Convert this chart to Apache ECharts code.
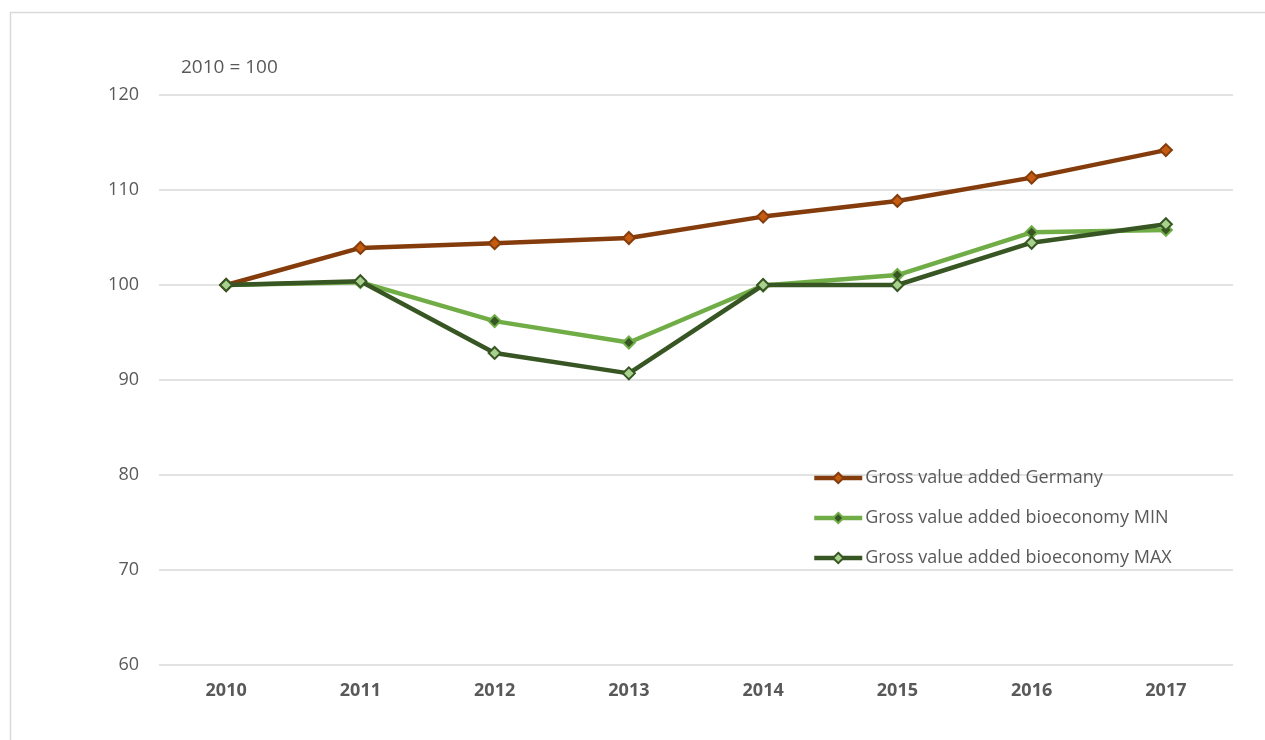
<!DOCTYPE html>
<html>
<head>
<meta charset="utf-8">
<script src="https://cdn.jsdelivr.net/npm/echarts@6/dist/echarts.min.js"></script>
<style>
  html, body { margin: 0; padding: 0; background: #ffffff; }
  #chart { width: 1265px; height: 740px; }
</style>
</head>
<body>
<div id="chart"></div>
<script>
// Index of gross value added (2010 = 100)
const years = ['2010', '2011', '2012', '2013', '2014', '2015', '2016', '2017'];
const germany = [100, 103.9, 104.4, 104.95, 107.2, 108.85, 111.3, 114.2];
const bioMin = [100, 100.3, 96.2, 93.95, 99.95, 101.05, 105.55, 105.8];
const bioMax = [100, 100.4, 92.85, 90.7, 100, 100, 104.45, 106.4];
const seriesNames = [
  'Gross value added Germany',
  'Gross value added bioeconomy MIN',
  'Gross value added bioeconomy MAX'
];

const textColor = '#595959';
const fontFamily = '"Open Sans", "Liberation Sans", sans-serif';

const chart = echarts.init(document.getElementById('chart'), null, { renderer: 'canvas' });

function lineSeries(name, data, lineColor, markerFill, markerBorder, z) {
  return {
    name: name,
    type: 'line',
    data: data,
    z: z,
    symbol: 'diamond',
    symbolSize: 12,
    showSymbol: true,
    lineStyle: { color: lineColor, width: 4.5 },
    itemStyle: { color: markerFill, borderColor: markerBorder, borderWidth: 2 },
    emphasis: { disabled: true }
  };
}

chart.setOption({
  animation: false,
  backgroundColor: '#ffffff',
  graphic: [
    {
      type: 'rect',
      shape: { x: 10.5, y: 12.5, width: 1400, height: 900 },
      style: { fill: 'none', stroke: '#d9d9d9', lineWidth: 1.5 },
      silent: true,
      z: -10
    },
    {
      type: 'text',
      left: 181,
      top: 58,
      style: { text: '2010 = 100', fill: textColor, font: '19px ' + fontFamily }
    }
  ],
  grid: { left: 159, right: 32, top: 95, bottom: 75, containLabel: false },
  legend: {
    orient: 'vertical',
    left: 812,
    top: 467,
    padding: 0,
    itemGap: 18,
    itemWidth: 48,
    itemHeight: 13,
    lineStyle: { width: 4.5 },
    textStyle: {
      color: textColor, fontSize: 18, fontFamily: fontFamily,
      lineHeight: 22, padding: [0, 0, 0, -2]
    },
    data: seriesNames.map(function (n) { return { name: n }; })
  },
  xAxis: {
    type: 'category',
    data: years,
    boundaryGap: true,
    axisLine: { show: false },
    axisTick: { show: false },
    axisLabel: {
      color: textColor, fontSize: 18, fontWeight: 'bold', fontFamily: fontFamily, margin: 17
    }
  },
  yAxis: {
    type: 'value',
    min: 60,
    max: 120,
    interval: 10,
    axisLine: { show: false },
    axisTick: { show: false },
    splitLine: { lineStyle: { color: '#d9d9d9', width: 1.5 } },
    axisLabel: { color: textColor, fontSize: 18, fontFamily: fontFamily, margin: 20 }
  },
  series: [
    lineSeries(seriesNames[0], germany, '#843c0c', '#c55a11', '#843c0c', 3),
    lineSeries(seriesNames[1], bioMin, '#70ad47', '#375623', '#70ad47', 2),
    lineSeries(seriesNames[2], bioMax, '#375623', '#a9d18e', '#375623', 4)
  ]
});
</script>
</body>
</html>
